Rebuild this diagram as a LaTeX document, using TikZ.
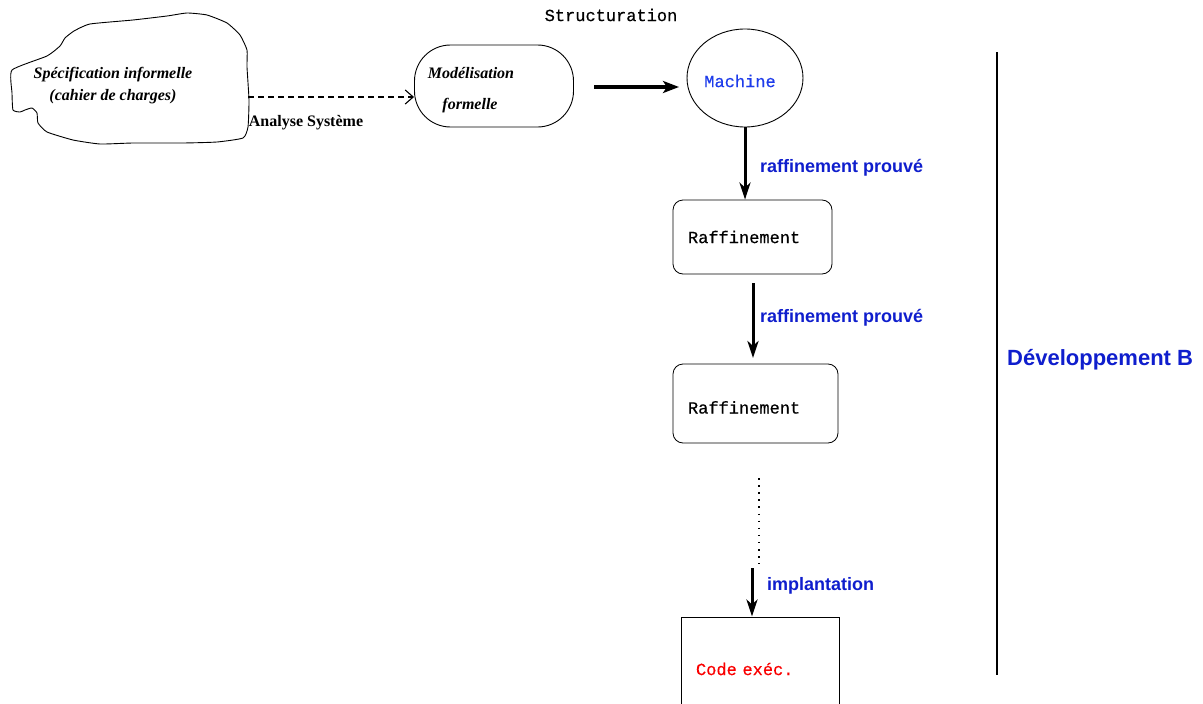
\documentclass[tikz,border=0pt]{standalone}
\usepackage{fontspec}
\setmainfont{Liberation Serif}
\setsansfont{Liberation Sans}
\setmonofont[FakeBold=0.5]{Liberation Mono}
\usetikzlibrary{arrows.meta,shapes.geometric}
\definecolor{mblue}{RGB}{15,30,205}
\definecolor{machblue}{RGB}{30,60,235}
\definecolor{mred}{RGB}{250,0,0}
\begin{document}
\begin{tikzpicture}[x=1pt,y=-1pt,
  serifbi/.style={font=\fontsize{16}{22}\selectfont\bfseries\itshape},
  seriflab/.style={font=\fontsize{16}{20}\selectfont\bfseries},
  monotxt/.style={font=\fontsize{17}{20}\ttfamily},
  bluelab/.style={font=\fontsize{18}{20}\sffamily\bfseries, text=mblue, anchor=west, inner sep=0pt},
  rafbox/.style={draw, line width=0.8pt, rounded corners=10pt, minimum height=74pt, text width=129pt, inner xsep=15pt, align=left, monotxt},
  bigarrow/.style={line width=3pt, -{Stealth[length=17pt,width=11pt,inset=5pt]}},
  horarrow/.style={line width=3.5pt, -{Stealth[length=16pt,width=12pt,inset=4pt]}},
  dasharrow/.style={line width=1.1pt, dash pattern=on 6pt off 4pt, -{Straight Barb[length=8pt,width=14pt]}}
]
\useasboundingbox (0,0) rectangle (1203,704);
\fill[white] (0,0) rectangle (1203,704);

% cloud
\draw[line width=0.9pt] plot[smooth cycle, tension=0.3] coordinates {
 (12,70) (47,56) (60,46) (65,38) (74,31) (90,24) (133,20) (167,16) (187,13) (207,15)
 (227,23) (240,35) (247,50) (247,67) (249,100) (248,127) (243,138) (217,142) (183,143)
 (133,143) (100,144) (73,140) (47,132) (38,123) (37,113) (32,108) (25,110) (20,112)
 (13,110) (12,93)};
\node[serifbi, align=center] (spec) at (113,86) {Spécification informelle\\(cahier de charges)};
\coordinate (cloudE) at (248,97);

% modelisation
\node[draw, line width=0.9pt, rounded corners=36pt, minimum width=159pt, minimum height=82pt] (modf) at (494,86) {};
\node[serifbi, inner sep=0pt] (modt1) at (471,73) {Modélisation};
\node[serifbi, inner sep=0pt] (modt2) at (470,106) {formelle};

\draw[dasharrow] (cloudE) -- (cloudE -| modf.west);
\node[seriflab, inner sep=0pt] (analyse) at (306,123) {Analyse Système};

% machine
\node[draw, line width=0.9pt, ellipse, minimum width=116pt, minimum height=98pt, inner sep=0pt] (mach) at (745,78) {};
\node[monotxt, text=machblue, inner sep=0pt] (macht) at (740,81) {Machine};
\node[monotxt, inner sep=0pt] (struct) at (611,15) {Structuration};
\coordinate (hs) at (594,87);
\coordinate (he) at (679,87);
\draw[horarrow] (hs) -- (he);

% raffinements
\node[rafbox] (raf1) at (752.5,237) {Raffinement};
\node[rafbox, minimum height=79pt, text width=135pt] (raf2) at (755.5,403.5) {\raisebox{-10pt}[0pt][0pt]{Raffinement}};

\draw[bigarrow] (mach.south) -- (mach.south |- raf1.north);
\node[bluelab] (lab1) at (760,168) {raffinement prouvé};

\coordinate (a2s) at (753,283);
\coordinate (a2e) at (753,358);
\draw[bigarrow] (a2s) -- (a2e);
\node[bluelab] (lab2) at (760,318) {raffinement prouvé};

% dotted
\coordinate (d1) at (759,478);
\coordinate (d2) at (759,564);
\draw[line width=1.4pt, dash pattern=on 1.5pt off 5.6pt] (d1) -- (d2);

% code
\node[draw, line width=0.9pt, minimum width=158pt, minimum height=104pt, text width=128pt, inner xsep=15pt, align=left, monotxt, text=mred] (code) at (760,669) {Code exéc.};
\coordinate (a3s) at (752,568);
\draw[bigarrow] (a3s) -- (a3s |- code.north);
\node[bluelab] (lab3) at (767,586) {implantation};

% vertical line
\coordinate (v1) at (997,52);
\coordinate (v2) at (997,675);
\draw[line width=2.2pt] (v1) -- (v2);
\node[font=\fontsize{22}{24}\sffamily\bfseries, text=mblue, anchor=west, inner sep=0pt] (devb) at (1007,360) {Développement B};
\end{tikzpicture}
\end{document}
